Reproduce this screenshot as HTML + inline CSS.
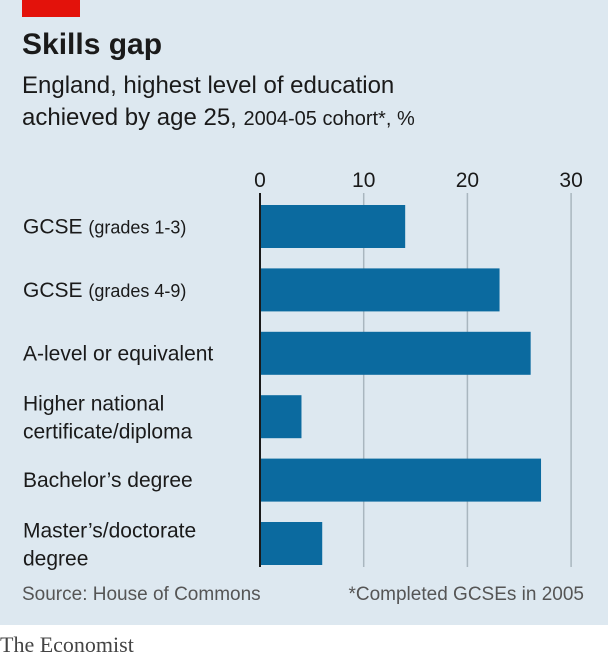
<!DOCTYPE html>
<html><head><meta charset="utf-8"><style>
body{margin:0;width:608px;height:662px;overflow:hidden;background:#fff;font-family:"Liberation Sans",sans-serif}
#panel{position:absolute;left:0;top:0;width:608px;height:625px;background:#dde8f0}
.t{position:absolute;white-space:nowrap;color:#1a1a1a}
</style></head><body>
<div id="panel"></div>
<div style="position:absolute;left:22px;top:0;width:58px;height:17px;background:#e3120b"></div>
<div class="t" style="left:22px;top:28px;font-size:30px;font-weight:bold">Skills gap</div>
<div class="t" style="left:22px;top:72px;font-size:24px">England, highest level of education</div>
<div class="t" style="left:22px;top:104px;font-size:24px">achieved by age 25, <span style="font-size:20px">2004-05 cohort*, %</span></div>
<svg id="chart" width="608" height="625" style="position:absolute;left:0;top:0"></svg>
<div class="t" style="left:22px;top:584px;font-size:19px;color:#555">Source: House of Commons</div>
<div class="t" style="right:24px;top:584px;font-size:19px;color:#555">*Completed GCSEs in 2005</div>
<div class="t" style="left:0;top:632px;font-size:22px;font-family:'Liberation Serif',serif;color:#444">The Economist</div>
<script>
const categories=[["GCSE ","(grades 1-3)"],["GCSE ","(grades 4-9)"],["A-level or equivalent"],["Higher national","certificate/diploma"],["Bachelor’s degree"],["Master’s/doctorate","degree"]];
const values=[14,23.1,26.1,4,27.1,6];
const ticks=[0,10,20,30];
const svg=document.getElementById('chart');
const NS='http://www.w3.org/2000/svg';
const x=v=>260+v*10.37;
const yTop=i=>205+i*63.4;
const bh=43;
function mk(t,a){const e=document.createElementNS(NS,t);for(const k in a)e.setAttribute(k,a[k]);svg.appendChild(e);return e;}
ticks.forEach(t=>{
 if(t>0){const l=mk('line',{x1:x(t),x2:x(t),y1:193,y2:567,stroke:'#a9b6bf','stroke-width':1.5});
 
 }
 const tx=mk('text',{x:x(t),y:187,'text-anchor':'middle','font-size':21,fill:'#1a1a1a','font-family':'Liberation Sans, sans-serif'});
 tx.textContent=t;
 
 
});
values.forEach((v,i)=>{
 const r=mk('rect',{x:x(0),y:yTop(i),width:x(v)-x(0),height:bh,fill:'#0b6a9f'});
 
 
 const c=categories[i];
 const t=mk('text',{x:23,'font-size':21,fill:'#1a1a1a','font-family':'Liberation Sans, sans-serif'});
 
 
 const cy=yTop(i)+bh/2;
 if(c.length===2&&c[0].endsWith(' ')){
  t.setAttribute('y',cy+7);
  const a=document.createElementNS(NS,'tspan');a.textContent=c[0];t.appendChild(a);
  const b=document.createElementNS(NS,'tspan');b.setAttribute('font-size',18);b.textContent=c[1];t.appendChild(b);
 } else if(c.length===2){
  t.setAttribute('y',cy-6);
  const a=document.createElementNS(NS,'tspan');a.setAttribute('x',23);a.textContent=c[0];t.appendChild(a);
  const b=document.createElementNS(NS,'tspan');b.setAttribute('x',23);b.setAttribute('dy',28);b.textContent=c[1];t.appendChild(b);
 } else {t.setAttribute('y',cy+7);t.textContent=c[0];}
});
const ax=mk('line',{x1:x(0),x2:x(0),y1:193,y2:567,stroke:'#1a1a1a','stroke-width':2});


</script>
</body></html>
